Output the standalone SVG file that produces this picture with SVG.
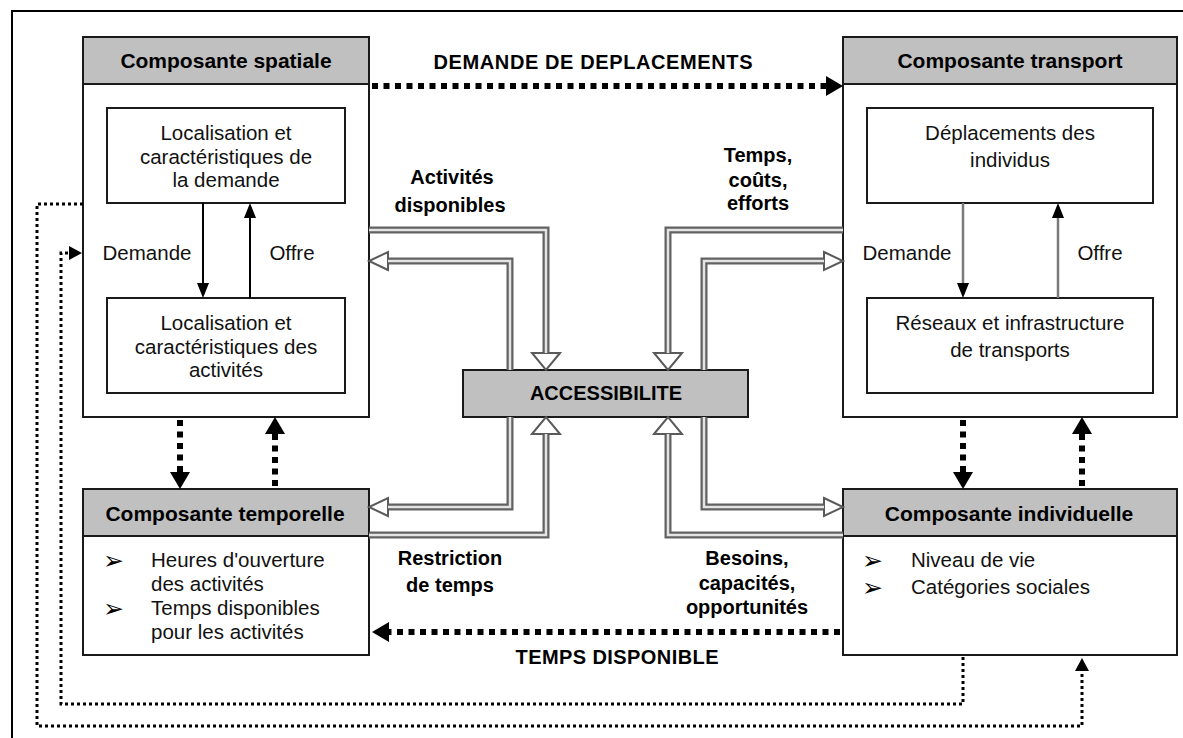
<svg xmlns="http://www.w3.org/2000/svg" width="1183" height="738" viewBox="0 0 1183 738">
<style>
.bg{fill:#ffffff}
.frame{fill:none;stroke:#000;stroke-width:2}
.box{fill:#ffffff;stroke:#1a1a1a;stroke-width:2}
.hdr{fill:#c0c0c0;stroke:#1a1a1a;stroke-width:2}
.inner{fill:#ffffff;stroke:#1a1a1a;stroke-width:2}
.ht{font-family:"Liberation Sans",Arial,sans-serif;font-weight:bold;font-size:21px;fill:#000;text-anchor:middle}
.bt{font-family:"Liberation Sans",Arial,sans-serif;font-weight:bold;font-size:20px;fill:#000;text-anchor:middle}
.rt{font-family:"Liberation Sans",Arial,sans-serif;font-size:20.5px;fill:#111;text-anchor:middle}
.lt{font-family:"Liberation Sans",Arial,sans-serif;font-size:20.5px;fill:#111}
.bul{font-family:"DejaVu Sans",sans-serif;font-size:25px;fill:#000}
.pipeO{fill:none;stroke:#626262;stroke-width:7;stroke-linejoin:miter}
.pipeI{fill:none;stroke:#e4e4e4;stroke-width:2.5;stroke-linejoin:miter}
.dotThick{fill:none;stroke:#000;stroke-width:6;stroke-dasharray:6 5.5}
.dotThin{fill:none;stroke:#000;stroke-width:3;stroke-dasharray:3 3}
.thinB{fill:none;stroke:#000;stroke-width:2}
.thinG{fill:none;stroke:#7a7a7a;stroke-width:2.5}
</style>
<defs>
<marker id="arrThin" viewBox="0 0 15 12" refX="0" refY="6" markerWidth="15" markerHeight="12" markerUnits="userSpaceOnUse" orient="auto"><path d="M0,0 L15,6 L0,12 Z" fill="#000"/></marker>
<marker id="arrDot" viewBox="0 0 17 20" refX="0" refY="10" markerWidth="17" markerHeight="20" markerUnits="userSpaceOnUse" orient="auto"><path d="M0,0 L17,10 L0,20 Z" fill="#000"/></marker>
<marker id="arrSmall" viewBox="0 0 13 14" refX="0" refY="7" markerWidth="13" markerHeight="14" markerUnits="userSpaceOnUse" orient="auto"><path d="M0,0 L13,7 L0,14 Z" fill="#000"/></marker>
<marker id="hollowV" viewBox="-1 -1 19 30" refX="0" refY="14" markerWidth="19" markerHeight="30" markerUnits="userSpaceOnUse" orient="auto" overflow="visible"><path d="M0,0 L17,14 L0,28 Z" fill="#fff" stroke="#5a5a5a" stroke-width="2" stroke-linejoin="miter"/></marker>
<marker id="hollowH" viewBox="-1 -1 21 20" refX="0" refY="9" markerWidth="21" markerHeight="20" markerUnits="userSpaceOnUse" orient="auto" overflow="visible"><path d="M0,0 L19,9 L0,18 Z" fill="#fff" stroke="#5a5a5a" stroke-width="2" stroke-linejoin="miter"/></marker>
</defs>
<rect class="bg" x="0" y="0" width="1183" height="738"/>
<path class="frame" d="M12,740 V11 H1186"/>

<g id="spatiale">
  <rect class="box" x="83" y="37" width="286" height="380"/>
  <rect class="hdr" x="83" y="37" width="286" height="47"/>
  <text class="ht" x="226" y="68">Composante spatiale</text>
</g>
<g id="demande-box">
  <rect class="inner" x="107" y="108" width="238" height="95"/>
  <text class="rt" x="226" y="140">Localisation et</text>
  <text class="rt" x="226" y="164">caractéristiques de</text>
  <text class="rt" x="226" y="187">la demande</text>
</g>
<g id="activites-box">
  <rect class="inner" x="107" y="298" width="238" height="95"/>
  <text class="rt" x="226" y="330">Localisation et</text>
  <text class="rt" x="226" y="354">caractéristiques des</text>
  <text class="rt" x="226" y="377">activités</text>
</g>
<g id="spatiale-labels">
  <text class="rt" x="147" y="260">Demande</text>
  <text class="rt" x="292" y="260">Offre</text>
</g>

<g id="transport">
  <rect class="box" x="843" y="37" width="334" height="380"/>
  <rect class="hdr" x="843" y="37" width="334" height="47"/>
  <text class="ht" x="1010" y="68">Composante transport</text>
</g>
<g id="deplacements-box">
  <rect class="inner" x="867" y="108" width="286" height="95"/>
  <text class="rt" x="1010" y="140">Déplacements des</text>
  <text class="rt" x="1010" y="167">individus</text>
</g>
<g id="reseaux-box">
  <rect class="inner" x="867" y="298" width="286" height="95"/>
  <text class="rt" x="1010" y="330">Réseaux et infrastructure</text>
  <text class="rt" x="1010" y="357">de transports</text>
</g>
<g id="transport-labels">
  <text class="rt" x="907" y="260">Demande</text>
  <text class="rt" x="1100" y="260">Offre</text>
</g>

<g id="temporelle">
  <rect class="box" x="83" y="489" width="286" height="166"/>
  <rect class="hdr" x="83" y="489" width="286" height="47"/>
  <text class="ht" x="225" y="521">Composante temporelle</text>
  <text class="bul" x="103" y="569">➢</text>
  <text class="lt" x="151" y="567">Heures d'ouverture</text>
  <text class="lt" x="151" y="591">des activités</text>
  <text class="bul" x="103" y="617">➢</text>
  <text class="lt" x="151" y="615">Temps disponibles</text>
  <text class="lt" x="151" y="639">pour les activités</text>
</g>

<g id="individuelle">
  <rect class="box" x="843" y="489" width="334" height="166"/>
  <rect class="hdr" x="843" y="489" width="334" height="47"/>
  <text class="ht" x="1009" y="521">Composante individuelle</text>
  <text class="bul" x="862" y="569">➢</text>
  <text class="lt" x="911" y="567">Niveau de vie</text>
  <text class="bul" x="862" y="596">➢</text>
  <text class="lt" x="911" y="594">Catégories sociales</text>
</g>

<g id="accessibilite">
  <rect class="hdr" x="463" y="370" width="285" height="47"/>
  <text class="bt" x="606" y="400">ACCESSIBILITE</text>
</g>

<g id="connectors">
  <path class="pipeO" d="M369,230 H546 V353" marker-end="url(#hollowV)"/>
  <path class="pipeI" d="M369,230 H546 V353"/>
  <path class="pipeO" d="M510,370 V261 H388" marker-end="url(#hollowH)"/>
  <path class="pipeI" d="M510,370 V261 H388"/>
  <path class="pipeO" d="M843,230 H668 V353" marker-end="url(#hollowV)"/>
  <path class="pipeI" d="M843,230 H668 V353"/>
  <path class="pipeO" d="M704,370 V261 H824" marker-end="url(#hollowH)"/>
  <path class="pipeI" d="M704,370 V261 H824"/>
  <path class="pipeO" d="M369,535 H546 V434" marker-end="url(#hollowV)"/>
  <path class="pipeI" d="M369,535 H546 V434"/>
  <path class="pipeO" d="M510,417 V507 H388" marker-end="url(#hollowH)"/>
  <path class="pipeI" d="M510,417 V507 H388"/>
  <path class="pipeO" d="M843,535 H668 V434" marker-end="url(#hollowV)"/>
  <path class="pipeI" d="M843,535 H668 V434"/>
  <path class="pipeO" d="M704,417 V507 H824" marker-end="url(#hollowH)"/>
  <path class="pipeI" d="M704,417 V507 H824"/>
  <path class="dotThick" d="M372,86 H826" marker-end="url(#arrDot)"/>
  <path class="dotThick" d="M840,632 H389" marker-end="url(#arrDot)"/>
  <path class="dotThick" d="M180,420 V472" marker-end="url(#arrDot)"/>
  <path class="dotThick" d="M275,486 V434" marker-end="url(#arrDot)"/>
  <path class="dotThick" d="M963,420 V472" marker-end="url(#arrDot)"/>
  <path class="dotThick" d="M1082,486 V434" marker-end="url(#arrDot)"/>
  <path class="dotThin" d="M83,204 H37 V726 H1082 V671" marker-end="url(#arrSmall)"/>
  <path class="dotThin" d="M963,657 V704 H61 V253 H69" marker-end="url(#arrSmall)"/>
  <path class="thinB" d="M203,203 V283" marker-end="url(#arrThin)"/>
  <path class="thinB" d="M250,298 V218" marker-end="url(#arrThin)"/>
  <path class="thinG" d="M963,203 V283" marker-end="url(#arrThin)"/>
  <path class="thinG" d="M1058,298 V218" marker-end="url(#arrThin)"/>
</g>

<g id="labels">
  <text class="bt" x="593" y="69" textLength="319" lengthAdjust="spacing">DEMANDE DE DEPLACEMENTS</text>
  <text class="bt" x="617" y="664" textLength="203" lengthAdjust="spacing">TEMPS DISPONIBLE</text>
  <text class="bt" x="452" y="184">Activités</text>
  <text class="bt" x="450" y="212">disponibles</text>
  <text class="bt" x="758" y="162">Temps,</text>
  <text class="bt" x="758" y="187">coûts,</text>
  <text class="bt" x="758" y="210">efforts</text>
  <text class="bt" x="450" y="565">Restriction</text>
  <text class="bt" x="450" y="592">de temps</text>
  <text class="bt" x="747" y="565">Besoins,</text>
  <text class="bt" x="747" y="590">capacités,</text>
  <text class="bt" x="747" y="614">opportunités</text>
</g>
</svg>
